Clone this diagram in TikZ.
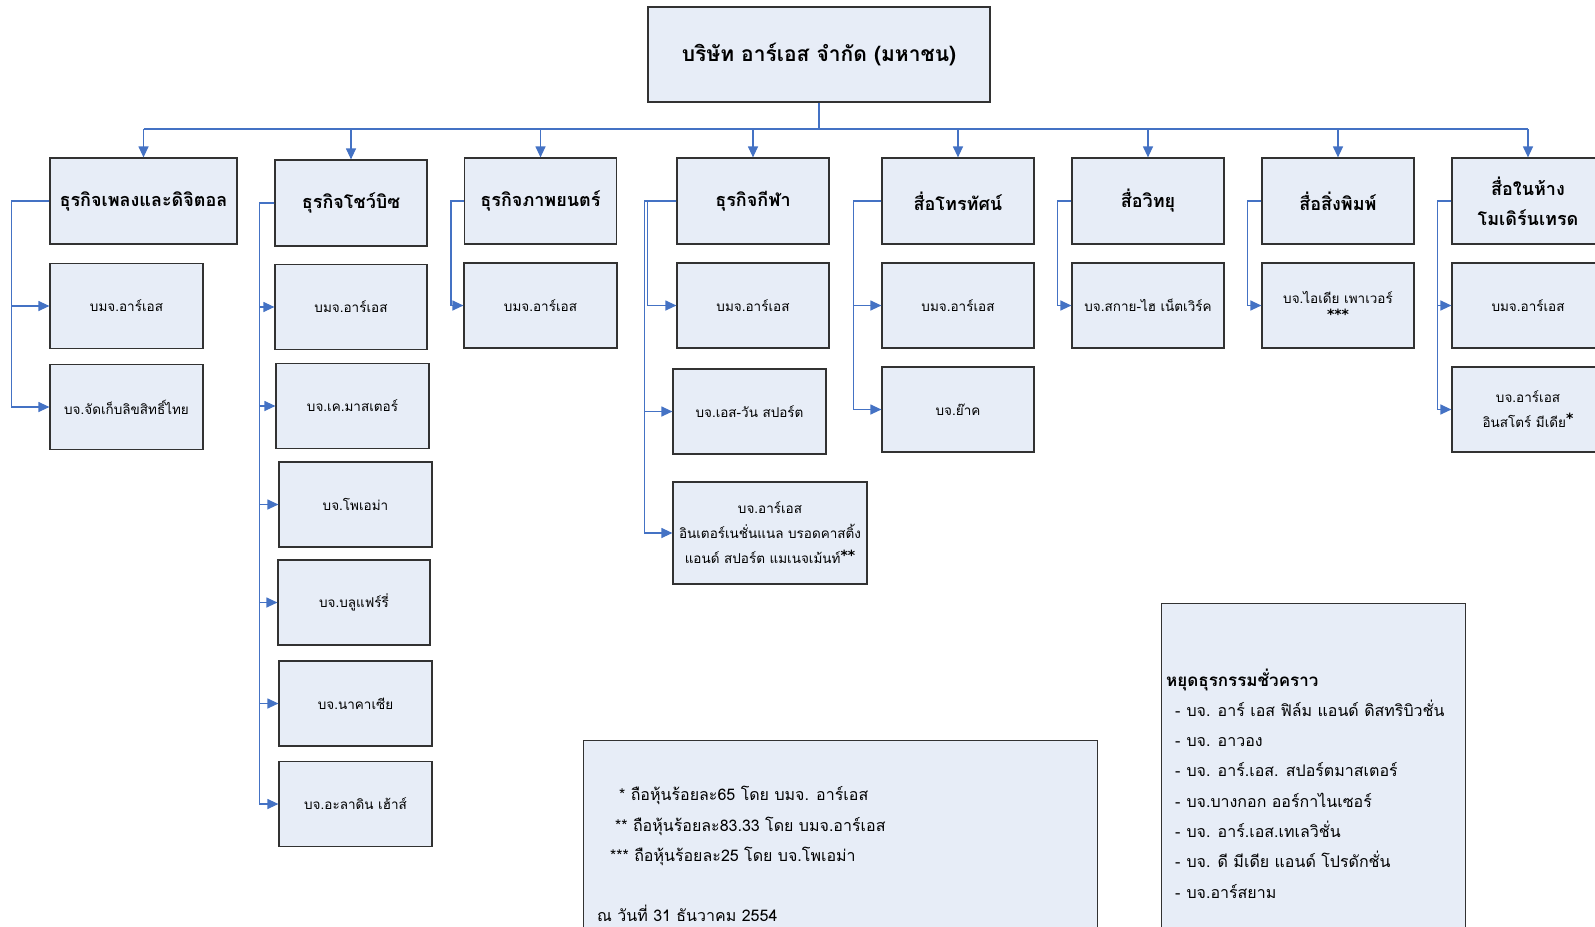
\documentclass[tikz,border=0pt]{standalone}
\usepackage{fontspec}
\setmainfont[Script=Thai]{Loma}
\newfontfamily\starfont{DejaVu Sans}
\usetikzlibrary{arrows.meta}

\definecolor{boxfill}{RGB}{231,237,247}
\definecolor{boxline}{RGB}{50,50,50}
\definecolor{linkblue}{RGB}{68,114,196}

\tikzset{
  topbox/.style={draw=boxline, fill=boxfill, line width=1.2pt, minimum width=342pt, minimum height=95pt, inner sep=0pt, font=\fontsize{21}{24}\selectfont\bfseries},
  headbox/.style={draw=boxline, fill=boxfill, line width=1.2pt, minimum width=152pt, minimum height=86pt, inner sep=0pt, align=center, font=\fontsize{18}{30}\selectfont\bfseries},
  subbox/.style={draw=boxline, fill=boxfill, line width=1.2pt, minimum width=153pt, minimum height=85pt, inner sep=0pt, align=center, font=\fontsize{13.5}{20}\selectfont},
  notebox/.style={draw=boxline, fill=boxfill, line width=1.2pt, anchor=north west, inner sep=0pt},
  notetext/.style={anchor=west, inner sep=0pt, text height=12pt, text depth=4pt, font=\fontsize{16}{18}\selectfont},
  link/.style={draw=linkblue, line width=1.2pt},
  arrowlink/.style={link, -{Triangle[length=11pt,width=10pt]}}
}
\newcommand{\stars}[1]{{\starfont\bfseries\fontsize{14}{14}\selectfont #1}}

\begin{document}
\begin{tikzpicture}[x=1pt,y=-1pt]
\useasboundingbox (0,0) rectangle (1595,926);

% company
\node[topbox] (top) at (819,54.5) {บริษัท อาร์เอส จำกัด (มหาชน)};
\coordinate (bus) at (0,129);

% business groups
\node[headbox, minimum width=187pt] (h1) at (143.5,201) {ธุรกิจเพลงและดิจิตอล};
\node[headbox] (h2) at (351,203) {ธุรกิจโชว์บิซ};
\node[headbox] (h3) at (540.5,201) {ธุรกิจภาพยนตร์};
\node[headbox] (h4) at (753,201) {ธุรกิจกีฬา};
\node[headbox] (h5) at (958,201) {สื่อโทรทัศน์};
\node[headbox] (h6) at (1148,201) {สื่อวิทยุ};
\node[headbox] (h7) at (1338,201) {สื่อสิ่งพิมพ์};
\node[headbox] (h8) at (1528,201) {สื่อในห้าง\\โมเดิร์นเทรด};

% companies
\node[subbox] (c11) at (126.5,306) {บมจ.อาร์เอส};
\node[subbox] (c12) at (126.5,407) {บจ.จัดเก็บลิขสิทธิ์ไทย};

\node[subbox, minimum width=152pt] (c21) at (351,307) {บมจ.อาร์เอส};
\node[subbox] (c22) at (352.5,406) {บจ.เค.มาสเตอร์};
\node[subbox] (c23) at (355.5,504.5) {บจ.โพเอม่า};
\node[subbox, minimum width=152pt] (c24) at (354,602.5) {บจ.บลูแฟร์รี่};
\node[subbox] (c25) at (355.5,703.5) {บจ.นาคาเซีย};
\node[subbox] (c26) at (355.5,804) {บจ.อะลาดิน เฮ้าส์};

\node[subbox] (c31) at (540.5,305.5) {บมจ.อาร์เอส};

\node[subbox, minimum width=152pt] (c41) at (753,305.5) {บมจ.อาร์เอส};
\node[subbox] (c42) at (749.5,411.5) {บจ.เอส-วัน สปอร์ต};
\node[subbox, minimum width=194pt, minimum height=102pt, font=\fontsize{13.5}{25}\selectfont] (c43) at (770,533) {บจ.อาร์เอส\\อินเตอร์เนชั่นแนล บรอดคาสติ้ง\\แอนด์ สปอร์ต แมเนจเม้นท์\raisebox{3pt}{\stars{**}}};

\node[subbox, minimum width=152pt] (c51) at (958,305.5) {บมจ.อาร์เอส};
\node[subbox, minimum width=152pt] (c52) at (958,409.5) {บจ.ย๊าค};

\node[subbox, minimum width=152pt] (c61) at (1148,305.5) {บจ.สกาย-ไฮ เน็ตเวิร์ค};

\node[subbox, minimum width=152pt] (c71) at (1338,305.5) {บจ.ไอเดีย เพาเวอร์\\[-4pt]\stars{***}};

\node[subbox, minimum width=152pt] (c81) at (1528,305.5) {บมจ.อาร์เอส};
\node[subbox, minimum width=152pt, font=\fontsize{13.5}{25}\selectfont] (c82) at (1528,409.5) {บจ.อาร์เอส\\อินสโตร์ มีเดีย\raisebox{4pt}{\stars{*}}};

% connectors from the top
\draw[link] (top.south) -- (top.south |- bus);
\draw[link] (h1.north |- bus) -- (h8.north |- bus);
\foreach \h in {h1,h2,h3,h4,h5,h6,h7,h8}
  \draw[arrowlink] (\h.north |- bus) -- (\h.north);

% connectors to the companies
\draw[arrowlink] (h1.west) -- ++(-38,0) |- (c11.west);
\draw[arrowlink] (h1.west) -- ++(-38,0) |- (c12.west);
\foreach \c in {c21,c22,c23,c24,c25,c26}
  \draw[arrowlink] (h2.west) -- ++(-15,0) |- (\c.west);
\draw[arrowlink] (h3.west) -- ++(-13,0) |- (c31.west);
\draw[arrowlink] (h4.west) -- ++(-29,0) |- (c41.west);
\draw[arrowlink] (h4.west) -- ++(-32,0) |- (c42.west);
\draw[arrowlink] (h4.west) -- ++(-32,0) |- (c43.west);
\draw[arrowlink] (h5.west) -- ++(-28,0) |- (c51.west);
\draw[arrowlink] (h5.west) -- ++(-28,0) |- (c52.west);
\draw[arrowlink] (h6.west) -- ++(-14,0) |- (c61.west);
\draw[arrowlink] (h7.west) -- ++(-14,0) |- (c71.west);
\draw[arrowlink] (h8.west) -- ++(-14,0) |- (c81.west);
\draw[arrowlink] (h8.west) -- ++(-14,0) |- (c82.west);

% notes
\node[notebox, minimum width=514pt, minimum height=200pt] (notes) at (583,740) {};
\node[notetext] (n1) at (619,796) {* ถือหุ้นร้อยละ65 โดย บมจ. อาร์เอส};
\node[notetext] (n2) at (615,827) {** ถือหุ้นร้อยละ83.33 โดย บมจ.อาร์เอส};
\node[notetext] (n3) at (610,857) {*** ถือหุ้นร้อยละ25 โดย บจ.โพเอม่า};
\node[notetext] (n4) at (597,917) {ณ วันที่ 31 ธันวาคม 2554};

\node[notebox, minimum width=304pt, minimum height=340pt] (halt) at (1161,603) {};
\node[notetext, font=\fontsize{17}{18}\selectfont\bfseries] (t0) at (1166,682) {หยุดธุรกรรมชั่วคราว};
\foreach \txt [count=\i] in {บจ. อาร์ เอส ฟิล์ม แอนด์ ดิสทริบิวชั่น, บจ. อาวอง, บจ. อาร์.เอส. สปอร์ตมาสเตอร์, บจ.บางกอก ออร์กาไนเซอร์, บจ. อาร์.เอส.เทเลวิชั่น, บจ. ดี มีเดีย แอนด์ โปรดักชั่น, บจ.อาร์สยาม}
  \node[notetext] (t\i) at (1175,682+30.3*\i) {-\hspace{6pt}\txt};
\end{tikzpicture}
\end{document}
